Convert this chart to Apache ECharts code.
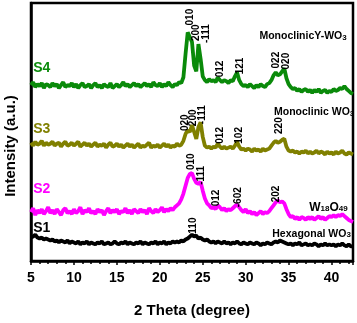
<!DOCTYPE html>
<html lang="en">
<head>
    <meta charset="UTF-8">
    <title>XRD</title>
    <script src="https://cdn.jsdelivr.net/npm/echarts@6/dist/echarts.min.js"></script>
    <style>
        html, body {margin: 0; padding: 0; background: #fff;}
    </style>
</head>
<body>
<div id="main" style="width: 357px;height:323px;"></div>
<script>
    // 2 theta from 5 to 42.5 deg, every 0.25 deg
    var twoTheta = [];
    for (var i = 0; i <= 150; i++) {
        twoTheta.push(5 + i * 0.25);
    }

    // intensities (arbitrary units, offset stack)
    var s4 = [
        180,183,178,181,179,182,177,181,180,178,
        182,179,181,177,180,183,178,180,179,182,
        178,181,177,180,182,178,179,181,177,180,
        182,178,180,177,181,179,178,182,177,179,
        181,178,180,183,179,181,178,180,182,179,
        181,178,180,182,179,181,178,183,180,179,
        182,178,181,179,183,180,178,181,180,183,
        182,188,212,234,229,224,200,194,222,207,
        189,185,183,186,184,185,183,188,185,183,
        185,184,182,185,184,189,193,185,181,179,
        180,178,181,179,177,180,178,181,179,178,
        181,182,185,190,193,190,191,194,197,187,
        181,178,176,177,174,176,173,175,176,173,
        175,172,175,173,176,172,174,175,172,174,
        173,176,174,175,177,176,179,176,174,172,171
    ];
    var s3 = [
        121,118,122,119,120,123,118,121,119,120,
        122,118,120,121,117,120,122,118,119,121,
        118,120,122,117,119,121,118,120,117,119,
        121,117,119,118,120,116,119,121,117,118,
        120,117,119,116,118,120,117,119,116,118,
        120,116,118,117,119,121,116,118,117,119,
        116,118,120,117,119,116,118,117,120,118,
        119,123,130,134,132,139,132,125,137,142,
        127,118,116,117,115,117,116,120,117,115,
        117,115,116,117,115,118,122,117,114,115,
        113,115,114,112,115,113,114,112,115,113,
        114,115,118,121,123,121,122,124,125,117,
        113,112,113,111,112,110,112,111,113,110,
        112,110,111,113,110,112,111,109,112,110,
        111,109,112,110,111,113,110,109,111,110,109
    ];
    var s2 = [
        50,54,47,52,49,53,48,51,55,49,
        52,48,53,50,47,52,54,49,51,48,
        53,49,51,55,48,52,50,54,49,51,
        48,53,50,52,47,51,54,49,52,50,
        53,48,51,50,54,49,52,48,53,51,
        49,53,50,52,48,54,51,49,53,50,
        52,55,50,53,51,54,52,55,57,59,
        63,69,77,85,89,90,84,80,79,81,
        72,64,59,57,54,55,53,57,55,52,
        54,51,53,52,54,56,58,55,52,50,
        53,49,51,48,50,47,49,51,48,50,
        49,51,54,57,60,62,60,61,59,53,
        48,45,46,43,45,42,45,44,42,45,
        43,45,42,44,46,43,45,42,44,46,
        45,47,45,47,46,48,46,44,42,41,40
    ];
    var s1 = [
        24,25,27,24,23,24,22,23,22,21,
        22,20,21,19,21,20,19,21,18,20,
        19,18,20,17,19,18,20,17,19,18,
        17,19,18,20,17,18,19,17,18,20,
        18,17,19,18,20,17,19,18,17,19,
        18,20,17,19,18,17,19,18,20,17,
        19,18,20,17,19,18,20,19,20,19,
        21,20,22,23,25,27,25,26,23,24,
        22,21,22,20,19,20,18,20,19,18,
        20,18,19,17,19,18,20,18,17,19,
        18,17,19,18,17,19,18,16,18,17,
        19,18,17,19,20,19,21,20,19,18,
        17,18,16,18,17,19,16,17,18,16,
        17,16,18,17,15,17,16,18,16,17,
        16,17,15,17,16,18,16,15,17,15,15
    ];

    var sampleNames = ['S4', 'S3', 'S2', 'S1'];
    var sampleColors = ['#0a8a0a', '#808000', '#ff00ff', '#000000'];
    // where the sample names sit [2theta, intensity]
    var sampleTags = [[5.25, 197], [5.25, 135], [5.25, 74], [5.25, 34]];

    // hkl labels [text, 2theta, intensity at foot of the text]
    var hklTags = [
        ['010', 23.55, 241], ['200', 24.25, 225], ['-111', 25.4, 223], ['012', 27.05, 188],
        ['121', 29.4, 191], ['022', 33.6, 197], ['020', 34.7, 196],
        ['020', 23.0, 133], ['200', 23.9, 138], ['-111', 24.95, 140], ['012', 27.05, 120],
        ['102', 29.3, 120], ['220', 33.9, 130],
        ['010', 23.65, 93], ['-111', 24.85, 78], ['012', 26.6, 56], ['-602', 29.15, 55],
        ['202', 33.6, 60],
        ['110', 23.85, 28]
    ];

    // phase names
    var phaseNames = ['{a|MonoclinicY-WO}{s|3}', '{a|Monoclinic WO}{s|3}', '{b|W}{s|18}{b|O}{s|49}', '{a|Hexagonal WO}{s|3}'];
    var phaseTags = [[31.6, 232], [33.3, 154], [37.4, 57], [33.1, 30]];

    var font = 'Liberation Sans, Arial, sans-serif';
    var myChart = echarts.init(document.getElementById('main'));

    var series = [];
    [s4, s3, s2, s1].forEach(function (vals, k) {
        series.push({
            type: 'line',
            name: sampleNames[k],
            showSymbol: false,
            silent: true,
            lineStyle: {color: sampleColors[k], width: 3.8},
            data: twoTheta.map(function (t, i) {
                return [t, vals[i]];
            })
        });
    });

    option = {
        animation: false,
        grid: {
            left: 31, right: 4, top: 3, bottom: 56,
            show: true, borderColor: '#000', borderWidth: 2.5
        },
        xAxis: {
            type: 'value',
            min: 5,
            max: 42.5,
            interval: 5,
            name: '2 Theta (degree)',
            nameLocation: 'middle',
            nameGap: 42,
            nameTextStyle: {fontSize: 15, fontWeight: 'bold', fontFamily: font, color: '#000'},
            axisLine: {show: true, lineStyle: {color: '#000', width: 2.5}},
            axisTick: {show: true, length: 4, lineStyle: {color: '#000', width: 1.5}},
            minorTick: {show: true, splitNumber: 5, length: 3, lineStyle: {color: '#000', width: 1.5}},
            axisLabel: {fontSize: 14, fontWeight: 'bold', fontFamily: font, color: '#000', margin: 10,
                formatter: function (v) { return v % 5 === 0 ? v : ''; }},
            splitLine: {show: false}
        },
        yAxis: {
            type: 'value',
            min: 0,
            max: 264,
            axisLine: {show: true, lineStyle: {color: '#000', width: 2.5}},
            axisTick: {show: false},
            axisLabel: {show: false},
            splitLine: {show: false}
        },
        series: series
    };
    myChart.setOption(option);

    // text annotations, placed from data coordinates
    function px(p) {
        return myChart.convertToPixel({gridIndex: 0}, p);
    }
    var texts = [{
        type: 'text', x: 3, y: 146, rotation: Math.PI / 2, z: 100,
        style: {text: 'Intensity (a.u.)', font: 'bold 15px ' + font, fill: '#000', align: 'center', verticalAlign: 'top'}
    }];
    sampleTags.forEach(function (p, k) {
        var q = px(p);
        texts.push({
            type: 'text', x: q[0], y: q[1], z: 100,
            style: {text: sampleNames[k], font: 'bold 14px ' + font, fill: sampleColors[k], align: 'left', verticalAlign: 'middle'}
        });
    });
    hklTags.forEach(function (p) {
        var q = px([p[1], p[2]]);
        texts.push({
            type: 'text', x: q[0], y: q[1], rotation: Math.PI / 2, z: 100,
            style: {text: p[0], font: 'bold 10px ' + font, fill: '#000', align: 'left', verticalAlign: 'middle'}
        });
    });
    phaseTags.forEach(function (p, k) {
        var q = px(p);
        texts.push({
            type: 'text', x: q[0], y: q[1], z: 100,
            style: {
                text: phaseNames[k], align: 'left', verticalAlign: 'middle',
                rich: {
                    a: {fontSize: 10.5, fontWeight: 'bold', fontFamily: font, fill: '#000', lineHeight: 15, verticalAlign: 'bottom'},
                    b: {fontSize: 12, fontWeight: 'bold', fontFamily: font, fill: '#000', lineHeight: 16, verticalAlign: 'bottom'},
                    s: {fontSize: 8, fontWeight: 'bold', fontFamily: font, fill: '#000', lineHeight: 11, verticalAlign: 'bottom'}
                }
            }
        });
    });
    myChart.setOption({graphic: texts});
</script>
</body>
</html>
